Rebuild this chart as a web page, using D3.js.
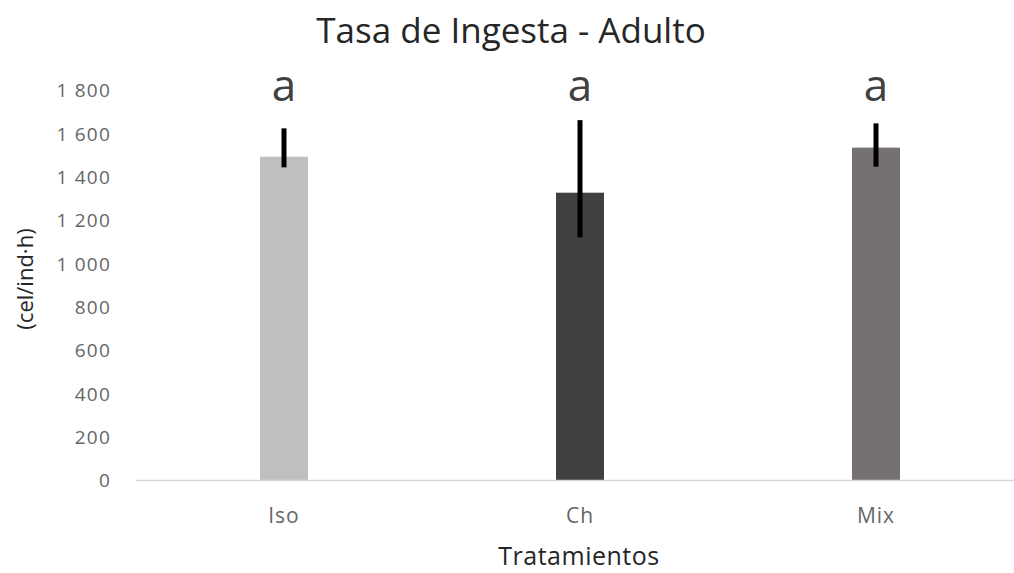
<!DOCTYPE html>
<html>
<head>
<meta charset="utf-8">
<script src="https://cdn.jsdelivr.net/npm/d3@7"></script>
<style>
  html, body { margin: 0; padding: 0; background: #fff; }
  svg { display: block; font-family: "Open Sans", "Liberation Sans", sans-serif; }
</style>
</head>
<body>
<svg id="chart" width="1014" height="573"></svg>
<script>
// Ingestion rate by treatment (cells per individual per hour)
const categories = ["Iso", "Ch", "Mix"];
const means      = [1492, 1326, 1534];
const errUpper   = [1623, 1661, 1646];
const errLower   = [1443, 1120, 1446];
const groupLetters = ["a", "a", "a"];
const barColors  = ["#bfbfbf", "#404040", "#767171"];
const yTicks     = [0, 200, 400, 600, 800, 1000, 1200, 1400, 1600, 1800];

const svg = d3.select("#chart");
const W = 1014, H = 573;

const x = d3.scaleBand()
  .domain(categories)
  .range([136, 1024])
  .paddingInner(0.8378)
  .paddingOuter(0.4189);

const y = d3.scaleLinear()
  .domain([0, 1800])
  .range([480, 90]);

// thousands separated by a space
const fmt = v => d3.format(",")(v).replace(/,/g, " ");

// title
svg.append("text")
  .attr("x", 511).attr("y", 43)
  .attr("text-anchor", "middle")
  .attr("fill", "#262626")
  .attr("font-size", 35)
  .text("Tasa de Ingesta - Adulto");

// y axis (labels only)
const yAxis = svg.append("g")
  .attr("transform", "translate(111,0)")
  .call(d3.axisLeft(y).tickValues(yTicks).tickFormat(fmt).tickSize(0).tickPadding(0));
yAxis.select(".domain").remove();
yAxis.selectAll("text")
  .attr("fill", "#666666")
  .attr("font-size", 19)
  .attr("letter-spacing", 1.2)
  .attr("font-family", "'Open Sans', sans-serif")
  .attr("dy", "0.36em");

// y axis title
svg.append("text")
  .attr("transform", "translate(33,279) rotate(-90)")
  .attr("text-anchor", "middle")
  .attr("fill", "#262626")
  .attr("font-size", 22)
  .text("(cel/ind·h)");

// bars
svg.append("g").selectAll("rect")
  .data(categories)
  .join("rect")
  .attr("x", d => x(d))
  .attr("width", x.bandwidth())
  .attr("y", (d, i) => y(means[i]))
  .attr("height", (d, i) => y(0) - y(means[i]))
  .attr("fill", (d, i) => barColors[i]);

// baseline
svg.append("line")
  .attr("x1", 136).attr("x2", W)
  .attr("y1", y(0) + 0.5).attr("y2", y(0) + 0.5)
  .attr("stroke", "#d9d9d9")
  .attr("stroke-width", 1.5);

// error bars
svg.append("g").selectAll("line")
  .data(categories)
  .join("line")
  .attr("x1", d => x(d) + x.bandwidth() / 2)
  .attr("x2", d => x(d) + x.bandwidth() / 2)
  .attr("y1", (d, i) => y(errUpper[i]))
  .attr("y2", (d, i) => y(errLower[i]))
  .attr("stroke", "#000")
  .attr("stroke-width", 5);

// significance letters
svg.append("g").selectAll("text")
  .data(categories)
  .join("text")
  .attr("x", d => x(d) + x.bandwidth() / 2)
  .attr("y", 101)
  .attr("text-anchor", "middle")
  .attr("fill", "#404040")
  .attr("font-size", 44)
  .text((d, i) => groupLetters[i]);

// category labels
const xAxis = svg.append("g")
  .attr("transform", `translate(0,${y(0)})`)
  .call(d3.axisBottom(x).tickSize(0).tickPadding(0));
xAxis.select(".domain").remove();
xAxis.selectAll("text")
  .attr("fill", "#666666")
  .attr("font-size", 21)
  .attr("letter-spacing", 1)
  .attr("font-family", "'Open Sans', sans-serif")
  .attr("dy", 0)
  .attr("y", 43);

// x axis title
svg.append("text")
  .attr("x", 579).attr("y", 565)
  .attr("text-anchor", "middle")
  .attr("fill", "#262626")
  .attr("font-size", 25)
  .attr("letter-spacing", 0.5)
  .text("Tratamientos");
</script>
</body>
</html>
